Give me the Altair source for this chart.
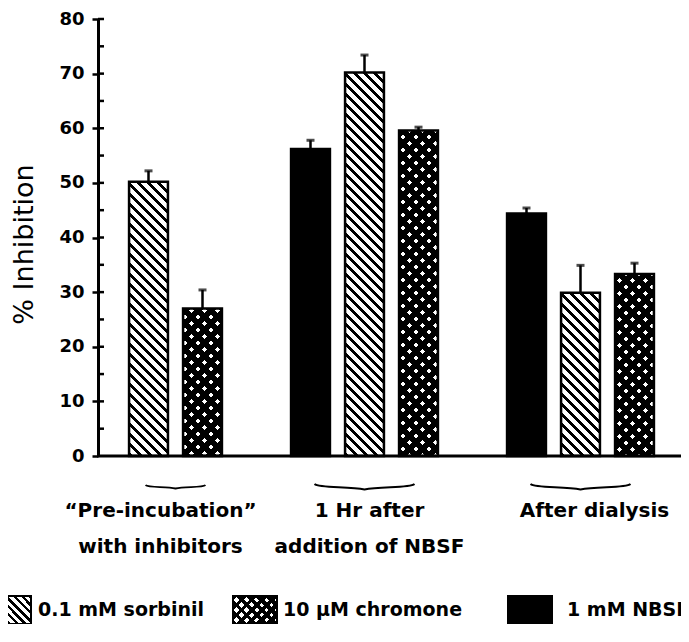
import altair as alt
import pandas as pd

# ---------------- data ----------------
group_keys = ["pre", "hr", "dia"]
group_labels = ["\u201cPre-incubation\u201d\nwith inhibitors",
                "1 Hr after\naddition of NBSF",
                "After dialysis"]
treatments = ["NBSF", "sorbinil", "chromone"]
legend_treat = ["sorbinil", "chromone", "NBSF"]
legend_labels = ["0.1 mM sorbinil", "10 \u03bcM chromone", "1 mM NBSF"]

bar_group = ["pre", "pre", "hr", "hr", "hr", "dia", "dia", "dia"]
bar_treat = ["sorbinil", "chromone", "NBSF", "sorbinil", "chromone", "NBSF", "sorbinil", "chromone"]
bar_value = [50.2, 27.0, 56.2, 70.2, 59.6, 44.4, 29.9, 33.3]
bar_err = [2.0, 3.4, 1.6, 3.2, 0.6, 1.0, 5.0, 2.0]

y_ticks = [0, 10, 20, 30, 40, 50, 60, 70, 80]
minor_ticks = [5, 10, 15, 20, 25, 30, 35, 40, 45, 50, 55, 60, 65, 70, 75, 80]

# ---------------- layout / style ----------------
W, H = 583, 437
BAR_W = 54 * 0.72
FONT = "DejaVu Sans"
TITLE = "% Inhibition"

df = pd.DataFrame({"idx": list(range(len(bar_value))), "group": bar_group, "treat": bar_treat,
                   "value": bar_value, "err": bar_err})
df_groups = pd.DataFrame({"group": group_keys, "label": group_labels})
df_leg = pd.DataFrame({"treat": legend_treat, "label": legend_labels})
df_ticks = pd.DataFrame({"v": minor_ticks})
df_zero = pd.DataFrame({"v": [0]})

x_scale = alt.Scale(domain=group_keys, range=[-30.5, W - 19.5], paddingInner=0.25, paddingOuter=0)
xo_scale = alt.Scale(domain=treatments, paddingInner=0.28, paddingOuter=0.14)
y_scale = alt.Scale(domain=[0, 80], nice=False, zero=True)
y_axis = alt.Axis(values=y_ticks, grid=False, domainWidth=3, domainColor="black",
                  tickColor="black", tickWidth=2.5, tickSize=6,
                  labelFont=FONT, labelFontWeight="bold", labelFontSize=18, labelColor="black",
                  labelPadding=8,
                  titleFont=FONT, titleFontSize=27, titleFontWeight="normal", titleColor="black",
                  titleX=-74, titleY=225, titleAlign="center", titleBaseline="middle", titleAngle=-90)


def X():
    return alt.X("group:N", scale=x_scale, axis=None)


def XO():
    return alt.XOffset("treat:N", scale=xo_scale)


def Y(field):
    return alt.Y(field, type="quantitative", scale=y_scale, axis=y_axis, title=TITLE)


def stripes(w, h, period, frac, direction, on, off):
    L = w + h
    n = L / period
    stops = []
    k = 0
    while k / n < 1:
        a = k / n
        b = min((k + frac) / n, 1.0)
        c = min((k + 1) / n, 1.0)
        stops += [(a, on), (b, on), (b, off), (c, off)]
        k += 1
    s = L / (w * w + h * h)
    if direction == "back":
        x1, y1, x2, y2 = 0, 1, s * w, 1 - s * h
    else:
        x1, y1, x2, y2 = 0, 0, s * w, s * h
    return alt.Gradient(gradient="linear",
                        stops=[alt.GradientStop(offset=round(o, 5), color=col) for o, col in stops],
                        x1=round(x1, 5), y1=round(y1, 5), x2=round(x2, 5), y2=round(y2, 5))


CLEAR = "rgba(0,0,0,0)"
layers = []

# bars
for i in range(len(bar_value)):
    h = bar_value[i] * H / 80
    base = alt.Chart(df).transform_filter(alt.datum.idx == i).encode(x=X(), xOffset=XO(), y=Y("value"))
    t = bar_treat[i]
    if t == "sorbinil":
        layers.append(base.mark_bar(fill=stripes(BAR_W, h, 10, 0.45, "back", "black", "white"),
                                    stroke="black", strokeWidth=2.5))
    elif t == "chromone":
        layers.append(base.mark_bar(fill=stripes(BAR_W, h, 13, 0.63, "back", "black", "white")))
        layers.append(base.mark_bar(fill=stripes(BAR_W, h, 13, 0.63, "fwd", "black", CLEAR),
                                    stroke="black", strokeWidth=2.5))
    else:
        layers.append(base.mark_bar(fill="black", stroke="black", strokeWidth=2.5))

# error bars (upper only, with cap)
err_base = alt.Chart(df).transform_calculate(top="datum.value + datum.err")
layers.append(err_base.mark_rule(color="black", strokeWidth=2.5).encode(
    x=X(), xOffset=XO(), y=Y("value"), y2="top:Q"))
layers.append(err_base.mark_tick(color="black", thickness=3, size=8).encode(
    x=X(), xOffset=XO(), y=Y("top")))

# right-hand ticks on the y axis
layers.append(alt.Chart(df_ticks).mark_rule(color="black", strokeWidth=2.5).encode(
    y=Y("v"), x=alt.value(0), x2=alt.value(6)))
# baseline
layers.append(alt.Chart(df_zero).mark_rule(color="black", strokeWidth=3).encode(
    y=Y("v"), x=alt.value(-1), x2=alt.value(W)))

# braces under the groups
BRACE = "M-1,-0.06 C-0.9,0.03 -0.3,-0.02 0,0.05 C0.3,-0.02 0.9,0.03 1,-0.06"
layers.append(alt.Chart(df_groups).transform_filter(alt.datum.group == "pre").mark_point(
    shape=BRACE, size=3600, filled=False, color="black", strokeWidth=1.8, opacity=1, xOffset=27
).encode(x=X(), y=alt.value(468)))
layers.append(alt.Chart(df_groups).transform_filter(alt.datum.group != "pre").mark_point(
    shape=BRACE, size=10000, filled=False, color="black", strokeWidth=1.8, opacity=1
).encode(x=X(), y=alt.value(468)))

# group labels
label_dx = {"pre": 12, "hr": 5, "dia": 14}
for g in group_keys:
    layers.append(alt.Chart(df_groups).transform_filter(alt.datum.group == g).mark_text(
        font=FONT, fontWeight="bold", fontSize=20, color="black", align="center",
        baseline="alphabetic", lineBreak="\n", lineHeight=36, dx=label_dx[g]
    ).encode(x=X(), y=alt.value(498), text="label:N"))

# legend
patch_x = {"sorbinil": (-98, -67), "chromone": (135, 179), "NBSF": (410, 454)}
text_x = {"sorbinil": -60, "chromone": 185, "NBSF": 469}
PY0, PY1 = 577, 605
for t in legend_treat:
    x0, x1 = patch_x[t]
    pb = alt.Chart(df_leg).transform_filter(alt.datum.treat == t).encode(
        x=alt.value(x0), x2=alt.value(x1), y=alt.value(PY0), y2=alt.value(PY1))
    pw, ph = x1 - x0, PY1 - PY0
    if t == "sorbinil":
        layers.append(pb.mark_rect(fill=stripes(pw, ph, 8, 0.45, "back", "black", "white"),
                                   stroke="black", strokeWidth=2))
    elif t == "chromone":
        layers.append(pb.mark_rect(fill=stripes(pw, ph, 10, 0.5, "back", "black", "white")))
        layers.append(pb.mark_rect(fill=stripes(pw, ph, 10, 0.5, "fwd", "black", CLEAR),
                                   stroke="black", strokeWidth=2))
    else:
        layers.append(pb.mark_rect(fill="black", stroke="black", strokeWidth=2))
    layers.append(alt.Chart(df_leg).transform_filter(alt.datum.treat == t).mark_text(
        font=FONT, fontWeight="bold", fontSize=19, color="black", align="left", baseline="middle"
    ).encode(x=alt.value(text_x[t]), y=alt.value((PY0 + PY1) / 2), text="label:N"))

chart = alt.layer(*layers).properties(
    width=W, height=H,
    padding={"left": 90, "top": 11, "right": 0, "bottom": 168},
    autosize=alt.AutoSizeParams(type="none"),
    background="white",
).configure_view(stroke=None)

chart.save("out.html", embed_options={"renderer": "svg", "actions": False})
